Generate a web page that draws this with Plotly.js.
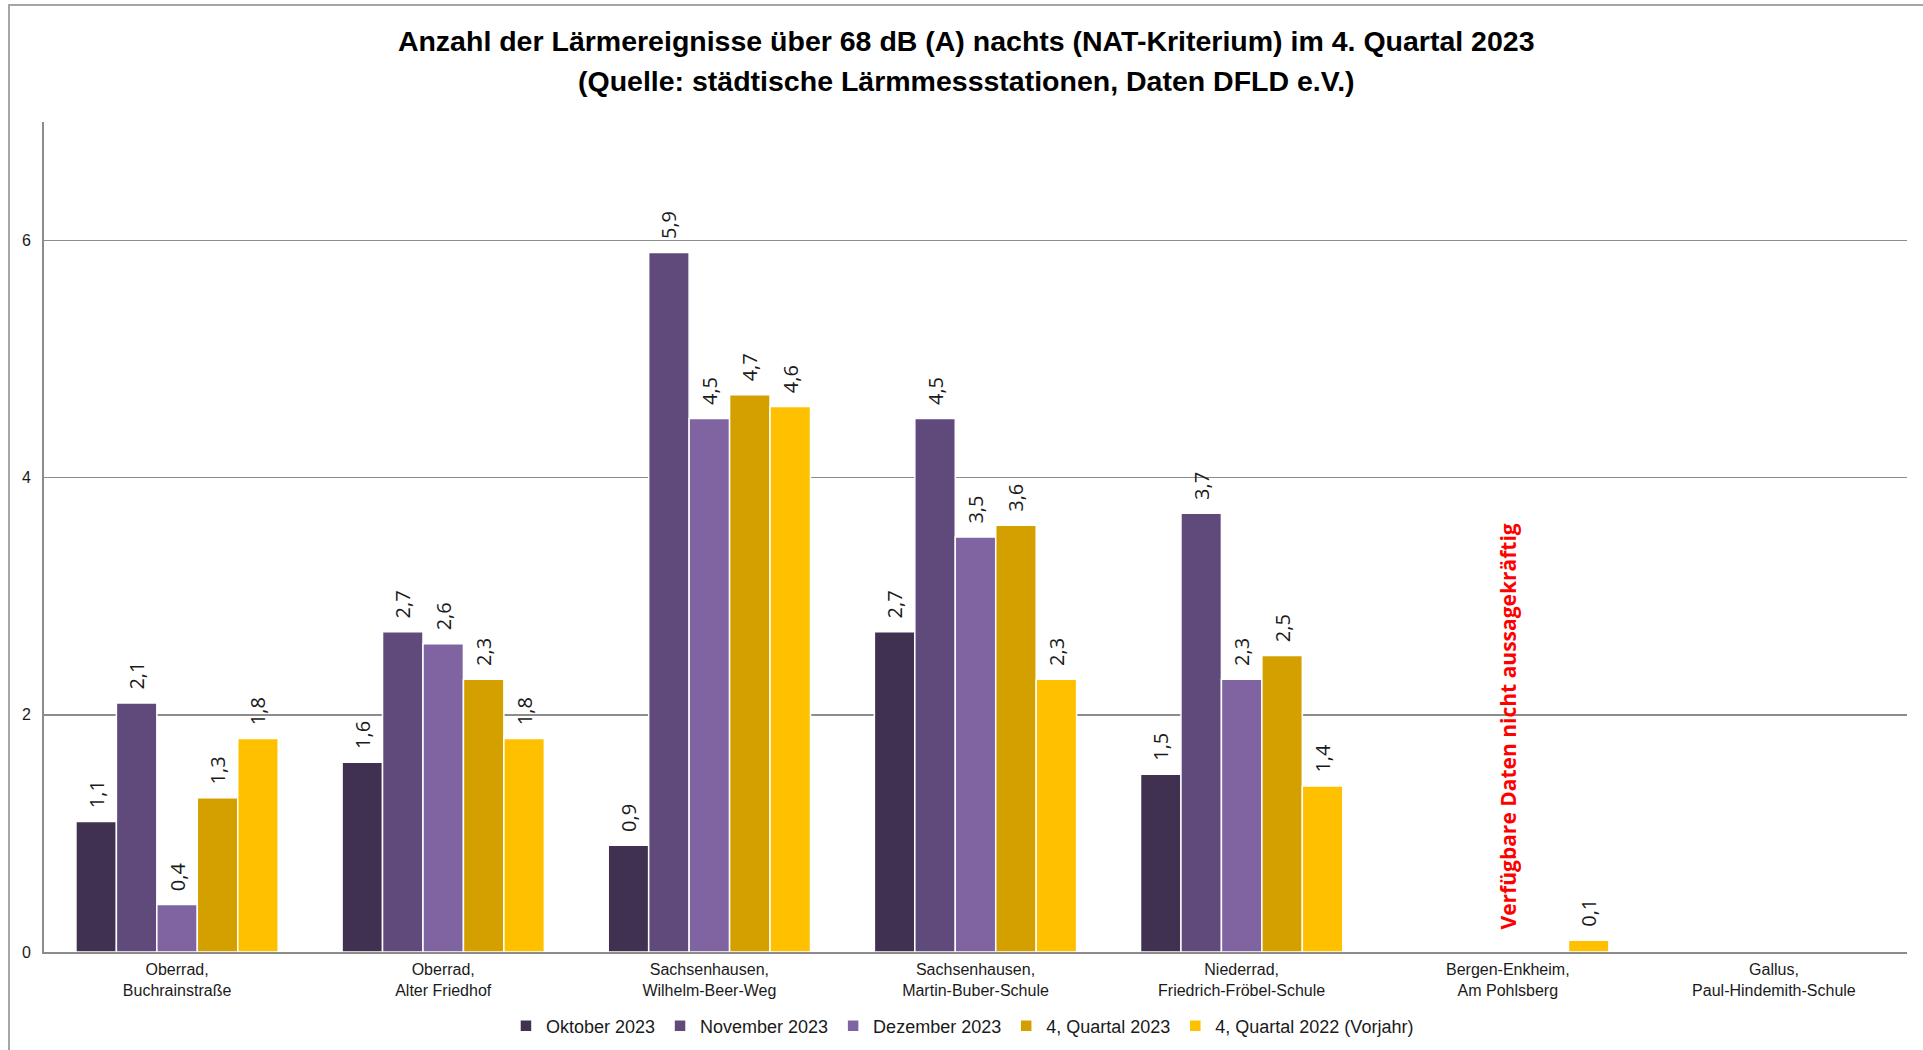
<!DOCTYPE html>
<html>
<head>
<meta charset="utf-8">
<script src="https://cdn.plot.ly/plotly-3.0.1.min.js"></script>
<style>
  html, body { margin: 0; padding: 0; background: #ffffff; overflow: hidden; }
  #frame { position: absolute; left: 8px; top: 4px; width: 1930px; height: 1060px;
           border-left: 2px solid #a6a6a6; border-top: 2px solid #a6a6a6; }
  #chart { position: absolute; left: 0; top: 0; width: 1923px; height: 1050px; }
</style>
</head>
<body>
<div id="frame"></div>
<div id="chart"></div>
<script>
const categories = [
  "Oberrad,<br>Buchrainstraße",
  "Oberrad,<br>Alter Friedhof",
  "Sachsenhausen,<br>Wilhelm-Beer-Weg",
  "Sachsenhausen,<br>Martin-Buber-Schule",
  "Niederrad,<br>Friedrich-Fröbel-Schule",
  "Bergen-Enkheim,<br>Am Pohlsberg",
  "Gallus,<br>Paul-Hindemith-Schule"
];
const seriesNames = ["Oktober 2023", "November 2023", "Dezember 2023", "4, Quartal 2023", "4, Quartal 2022 (Vorjahr)"];
const oktober2023  = [1.1, 1.6, 0.9, 2.7, 1.5, null, null];
const november2023 = [2.1, 2.7, 5.9, 4.5, 3.7, null, null];
const dezember2023 = [0.4, 2.6, 4.5, 3.5, 2.3, null, null];
const quartal2023  = [1.3, 2.3, 4.7, 3.6, 2.5, null, null];
const quartal2022  = [1.8, 1.8, 4.6, 2.3, 1.4, 0.1, null];
const yTicks = [0, 2, 4, 6];
const titleLine1 = "Anzahl der Lärmereignisse über 68 dB (A) nachts (NAT-Kriterium) im 4. Quartal 2023";
const titleLine2 = "(Quelle: städtische Lärmmessstationen, Daten DFLD e.V.)";
const noteText = "Verfügbare Daten nicht aussagekräftig";
const noteCategory = categories[5];
const noteY = 1.90;

const seriesValues = [oktober2023, november2023, dezember2023, quartal2023, quartal2022];
const colors = ["#403151", "#604A7B", "#8064A2", "#D4A000", "#FFC000"];

function fmt(v) {
  if (v === null || v === undefined) return "";
  return "\u00a0\u00a0" + v.toFixed(1).replace(".", ",");
}

const traces = seriesValues.map((vals, i) => ({
  type: "bar",
  name: seriesNames[i],
  x: categories,
  y: vals,
  text: vals.map(fmt),
  textposition: "outside",
  textangle: -90,
  constraintext: "none",
  cliponaxis: false,
  textfont: { family: "Open Sans", size: 20, color: "#1a1a1a" },
  marker: { color: colors[i], line: { color: "#ffffff", width: 1.5 } },
  hoverinfo: "x+y"
}));

const titleFont = { family: "Liberation Sans, Arial, sans-serif", size: 28.5, weight: 700, color: "#000000" };

const layout = {
  width: 1923,
  height: 1050,
  paper_bgcolor: "rgba(0,0,0,0)",
  plot_bgcolor: "rgba(0,0,0,0)",
  margin: { l: 44, r: 16, t: 122, b: 98 },
  barmode: "group",
  bargap: 0.24,
  bargroupgap: 0,
  title: {
    text: titleLine1,
    font: titleFont,
    xref: "paper", x: 0.495, xanchor: "center",
    yref: "container", y: 0.9614, yanchor: "middle"
  },
  xaxis: {
    type: "category",
    showline: true, linecolor: "#8c8c8c", linewidth: 2,
    showgrid: false, ticks: "",
    ticklabelstandoff: 2,
    tickfont: { family: "Liberation Sans, Arial, sans-serif", size: 16, color: "#1a1a1a" },
    fixedrange: true
  },
  yaxis: {
    range: [0, 7],
    tickvals: yTicks,
    ticktext: yTicks.map(String),
    showline: true, linecolor: "#8c8c8c", linewidth: 2,
    showgrid: true, gridcolor: "#8c8c8c", gridwidth: 1.5,
    zeroline: false, ticks: "",
    ticklabelstandoff: 8,
    tickfont: { family: "Liberation Sans, Arial, sans-serif", size: 16, color: "#1a1a1a" },
    fixedrange: true
  },
  legend: {
    orientation: "h",
    x: 0.493, xanchor: "center",
    yref: "container",
    y: 0.0229, yanchor: "middle",
    font: { family: "Liberation Sans, Arial, sans-serif", size: 18, color: "#1a1a1a" },
    itemwidth: 30
  },
  annotations: [
    {
      x: 0.495, xref: "paper", xanchor: "center",
      y: 1.0494, yref: "paper", yanchor: "middle",
      text: titleLine2,
      showarrow: false,
      font: titleFont
    },
    {
      x: noteCategory, xref: "x",
      y: noteY, yref: "y",
      text: noteText,
      textangle: -90,
      showarrow: false,
      font: { family: "Open Sans", size: 21, weight: 700, color: "#ff0000" }
    }
  ]
};

Plotly.newPlot("chart", traces, layout, { displayModeBar: false, staticPlot: true });
</script>
</body>
</html>
